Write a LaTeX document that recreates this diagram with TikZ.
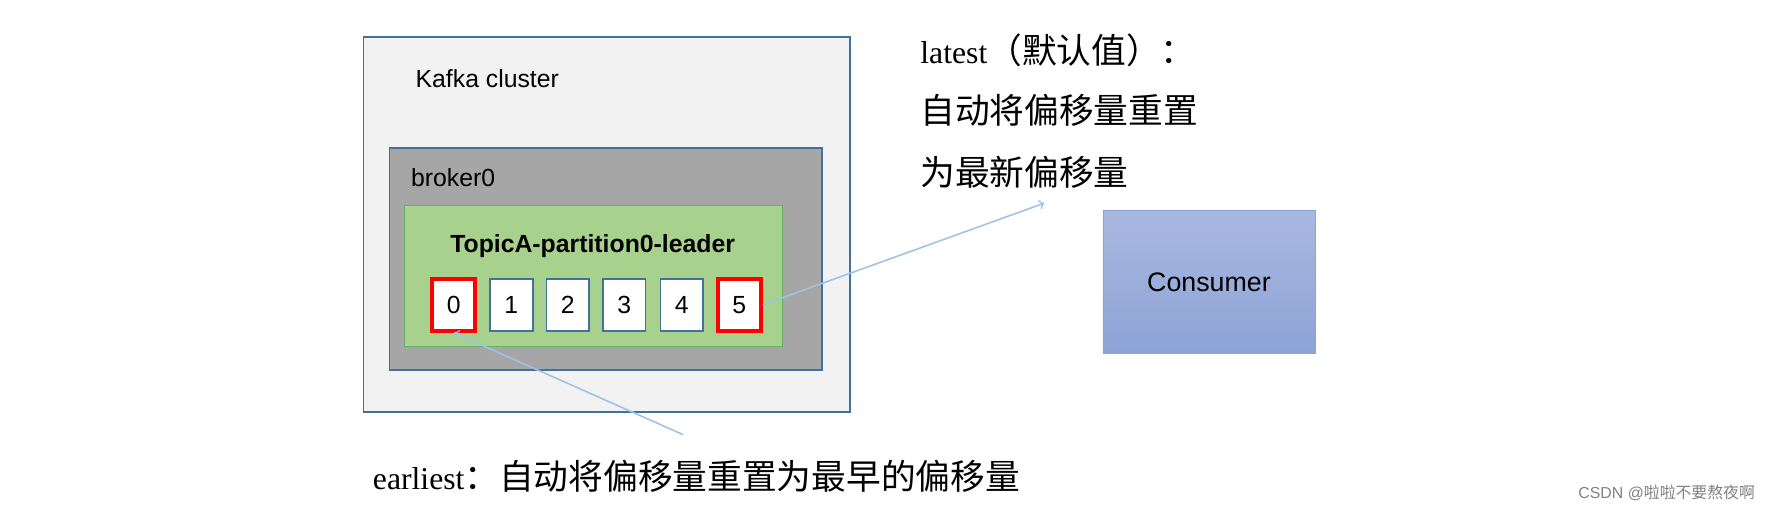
\documentclass[tikz,border=0pt]{standalone}
\usepackage{fontspec}
\setmainfont{Liberation Serif}
\setsansfont{Liberation Sans}
\newfontfamily\cjk{Noto Sans CJK SC}
\usetikzlibrary{positioning}
\definecolor{frameblue}{HTML}{41719C}
\definecolor{arrowblue}{HTML}{9DC3E6}
\definecolor{leafgreen}{HTML}{A9D18E}
\definecolor{cellred}{HTML}{FF0000}
\definecolor{consumertop}{HTML}{A9B8E0}
\definecolor{consumerbottom}{HTML}{8DA3D6}
\newcommand{\cjkbig}{\cjk\fontsize{17.5}{20}\selectfont}
\tikzset{
  cell/.style={draw=frameblue, thick, fill=white, minimum width=0.76cm, minimum height=0.92cm, inner sep=0pt, font=\sffamily\fontsize{12.5}{14}\selectfont},
  redcell/.style={cell, draw=cellred, line width=2pt},
  note/.style={anchor=west, inner sep=0pt, font=\fontsize{16}{19}\selectfont},
  pointer/.style={->, arrowblue, thick}
}
\begin{document}
\begin{tikzpicture}[x=0.02cm, y=-0.02cm]
          \useasboundingbox (0, 0) rectangle (1568, 455);
          \draw[frameblue, thick, fill=gray!10] (322, 33) rectangle (753, 365);
          \node[anchor=west, font=\sffamily\fontsize{12.5}{14}\selectfont] (cluster) at (362, 70) {Kafka cluster};
          \draw[frameblue, thick, fill=gray!70] (345, 131) rectangle (728, 328);
          \node[anchor=west, font=\sffamily\fontsize{12.5}{14}\selectfont] (broker) at (358, 157) {broker0};
          \draw[green!50!black!60, fill=leafgreen] (358, 182) rectangle (693, 307);
          \node[font=\sffamily\bfseries\fontsize{12.5}{14}\selectfont] (topic) at (525, 218) {TopicA-partition0-leader};

          \node[redcell] (c0) at (402, 270) {0};
          \node[cell] (c1) at (453, 270) {1};
          \node[cell] (c2) at (503, 270) {2};
          \node[cell] (c3) at (553, 270) {3};
          \node[cell] (c4) at (604, 270) {4};
          \node[redcell] (c5) at (655, 270) {5};

          \node[draw=consumerbottom, top color=consumertop, bottom color=consumerbottom, minimum width=3.76cm, minimum height=2.54cm, font=\sffamily\fontsize{13.5}{15}\selectfont] (consumer) at (1071, 250) {Consumer};

          \node[note] (latest) at (815, 45) {latest{\cjkbig（默认值）：}};
          \node[note] (auto) at (815, 98) {\cjkbig 自动将偏移量重置};
          \node[note] (newest) at (815, 153) {\cjkbig 为最新偏移量};
          \node[note] (earliest) at (330, 422) {earliest{\cjkbig：自动将偏移量重置为最早的偏移量}};
          \node[anchor=east, inner sep=0pt, text=gray, font=\sffamily\fontsize{8}{9}\selectfont] (mark) at (1555, 437) {CSDN @{\cjk 啦啦不要熬夜啊}};

          \coordinate (latestend) at (925, 180);
          \coordinate (earlystart) at (605, 385);
          \draw[pointer] (c5.east) -- (latestend);
          \draw[pointer] (earlystart) -- (c0.south);
        \end{tikzpicture}
\end{document}
